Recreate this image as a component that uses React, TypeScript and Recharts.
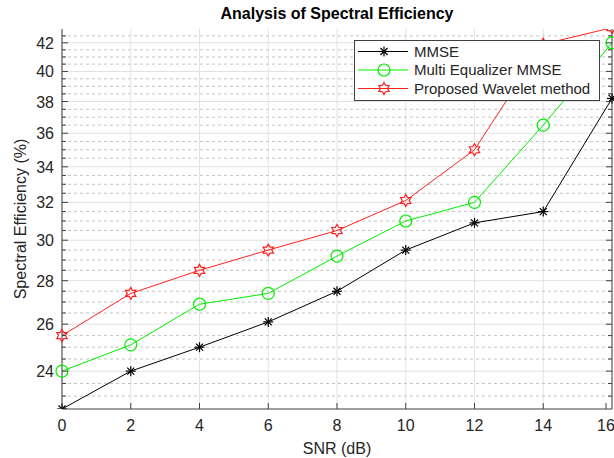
import { LineChart, Line, XAxis, YAxis, CartesianGrid, ReferenceLine } from 'recharts'

const snr = [0, 2, 4, 6, 8, 10, 12, 14, 16]
const mmse = [22.5, 24.0, 25.0, 26.1, 27.5, 29.5, 30.9, 31.5, 38.2]
const multiEq = [24.0, 25.1, 26.9, 27.4, 29.2, 31.0, 32.0, 36.5, 42.0]
const wavelet = [25.5, 27.4, 28.5, 29.5, 30.5, 32.1, 35.0, 41.9, 43.1]

const xTicks = [0, 2, 4, 6, 8, 10, 12, 14, 16]
const yMajor = [24, 26, 28, 30, 32, 34, 36, 38, 40, 42]
const yMinor = [
  23, 23.5, 24.5, 25, 25.5, 26.5, 27, 27.5, 28.5, 29, 29.5, 30.5, 31, 31.5,
  32.5, 33, 33.5, 34.5, 35, 35.5, 36.5, 37, 37.5, 38.5, 39, 39.5, 40.5, 41, 41.5, 42.5,
]
const yAll = [...yMajor, ...yMinor].sort((a, b) => a - b)

const data = snr.map((s, i) => ({
  snr: s,
  mmse: mmse[i],
  multiEq: multiEq[i],
  wavelet: wavelet[i],
}))

const FONT = 'Liberation Sans, Arial, Helvetica, sans-serif'
const AXIS = '#404040'
const TEXT = '#262626'

const Star = (props: any) => {
  const { cx, cy } = props
  if (cx == null || cy == null) return null
  const r = 5
  const d = r * 0.7
  return (
    <g stroke="#000" strokeWidth={1.2}>
      <line x1={cx - r} y1={cy} x2={cx + r} y2={cy} />
      <line x1={cx} y1={cy - r} x2={cx} y2={cy + r} />
      <line x1={cx - d} y1={cy - d} x2={cx + d} y2={cy + d} />
      <line x1={cx - d} y1={cy + d} x2={cx + d} y2={cy - d} />
    </g>
  )
}

const Circle = (props: any) => {
  const { cx, cy } = props
  if (cx == null || cy == null) return null
  return <circle cx={cx} cy={cy} r={6} fill="none" stroke="#00ee00" strokeWidth={1.2} />
}

const hexPath = (cx: number, cy: number, r: number) => {
  const pts: string[] = []
  for (let k = 0; k < 12; k++) {
    const rr = k % 2 === 0 ? r : r * 0.58
    const a = (Math.PI / 6) * k - Math.PI / 2
    pts.push(`${cx + rr * Math.cos(a)},${cy + rr * Math.sin(a)}`)
  }
  return 'M' + pts.join('L') + 'Z'
}

const Hexagram = (props: any) => {
  const { cx, cy } = props
  if (cx == null || cy == null) return null
  return <path d={hexPath(cx, cy, 6)} fill="none" stroke="#ff2020" strokeWidth={1.2} />
}

const BottomTick = (props: any) => {
  const { x, y, payload } = props
  return (
    <g>
      <line x1={x} y1={y} x2={x} y2={y - 6} stroke={AXIS} strokeWidth={1} />
      <text x={x} y={y + 22} textAnchor="middle" fontSize={16} fill={TEXT} fontFamily={FONT}>
        {payload.value}
      </text>
    </g>
  )
}

const TopTick = (props: any) => {
  const { x, y } = props
  return <line x1={x} y1={y} x2={x} y2={y + 6} stroke={AXIS} strokeWidth={1} />
}

const LeftTick = (props: any) => {
  const { x, y, payload } = props
  const major = yMajor.includes(payload.value)
  return (
    <g>
      <line x1={x} y1={y} x2={x + (major ? 6 : 4)} y2={y} stroke={AXIS} strokeWidth={1} />
      {major && (
        <text x={x - 8} y={y + 6} textAnchor="end" fontSize={16} fill={TEXT} fontFamily={FONT}>
          {payload.value}
        </text>
      )}
    </g>
  )
}

const RightTick = (props: any) => {
  const { x, y, payload } = props
  const major = yMajor.includes(payload.value)
  return <line x1={x} y1={y} x2={x - (major ? 6 : 4)} y2={y} stroke={AXIS} strokeWidth={1} />
}

const legendItems = [
  { label: 'MMSE', color: '#000', Marker: Star },
  { label: 'Multi Equalizer MMSE', color: '#00ee00', Marker: Circle },
  { label: 'Proposed Wavelet method', color: '#ff2020', Marker: Hexagram },
]

const LegendBox = () => (
  <svg width={247} height={62} style={{ display: 'block' }}>
    <rect x={0.5} y={0.5} width={245} height={60} fill="#fff" stroke={AXIS} strokeWidth={1} />
    {legendItems.map((it, i) => {
      const cy = 11.5 + i * 18.5
      return (
        <g key={it.label}>
          <line x1={4} y1={cy} x2={54} y2={cy} stroke={it.color} strokeWidth={1} />
          <it.Marker cx={30} cy={cy} />
          <text x={60} y={cy + 5} fontSize={15} fill={TEXT} fontFamily={FONT}>
            {it.label}
          </text>
        </g>
      )
    })}
  </svg>
)

export default function App() {
  return (
    <div style={{ position: 'absolute', left: 0, top: 0, width: 614, height: 458, background: '#fff' }}>
      <div
        style={{
          position: 'absolute',
          left: 62,
          width: 550,
          top: 5,
          textAlign: 'center',
          fontFamily: FONT,
          fontWeight: 'bold',
          fontSize: 16,
          color: '#000',
        }}
      >
        Analysis of Spectral Efficiency
      </div>
      <LineChart
        width={614}
        height={458}
        data={data}
        margin={{ top: 29, right: 1, bottom: 0, left: 22 }}
      >
        <CartesianGrid vertical horizontal={false} stroke="#e3e3e3" xAxisId="bottom" yAxisId="left" />
        {yMinor.map((v) => (
          <ReferenceLine
            key={'m' + v}
            y={v}
            yAxisId="left"
            xAxisId="bottom"
            stroke="#c4c4c4"
            strokeDasharray="3 3"
            strokeWidth={1}
          />
        ))}
        {yMajor.map((v) => (
          <ReferenceLine key={'M' + v} y={v} yAxisId="left" xAxisId="bottom" stroke="#e0e0e0" strokeWidth={1} />
        ))}
        <XAxis
          xAxisId="bottom"
          dataKey="snr"
          type="number"
          domain={[0, 16]}
          ticks={xTicks}
          tickSize={0}
          tickMargin={0}
          tickLine={false}
          axisLine={{ stroke: AXIS, strokeWidth: 1 }}
          tick={<BottomTick />}
          height={49}
          label={{ value: 'SNR (dB)', position: 'insideBottom', offset: 4, fontSize: 16, fill: TEXT, fontFamily: FONT }}
        />
        <XAxis
          xAxisId="top"
          orientation="top"
          dataKey="snr"
          type="number"
          domain={[0, 16]}
          ticks={xTicks}
          tickSize={0}
          tickMargin={0}
          tickLine={false}
          axisLine={{ stroke: AXIS, strokeWidth: 1 }}
          tick={<TopTick />}
          height={0}
        />
        <YAxis
          yAxisId="left"
          scale="log"
          domain={[22.5, 43]}
          allowDataOverflow
          ticks={yAll}
          interval={0}
          tickSize={0}
          tickMargin={0}
          tickLine={false}
          axisLine={{ stroke: AXIS, strokeWidth: 1 }}
          tick={<LeftTick />}
          width={40}
          label={{
            value: 'Spectral Efficiency (%)',
            angle: -90,
            position: 'insideLeft',
            offset: -2,
            fontSize: 16,
            fill: TEXT,
            fontFamily: FONT,
            style: { textAnchor: 'middle' },
          }}
        />
        <YAxis
          yAxisId="right"
          orientation="right"
          scale="log"
          domain={[22.5, 43]}
          allowDataOverflow
          ticks={yAll}
          interval={0}
          tickSize={0}
          tickMargin={0}
          tickLine={false}
          axisLine={{ stroke: AXIS, strokeWidth: 1 }}
          tick={<RightTick />}
          width={1}
        />
        <Line
          xAxisId="bottom"
          yAxisId="left"
          dataKey="mmse"
          stroke="#000"
          strokeWidth={1}
          dot={<Star />}
          isAnimationActive={false}
        />
        <Line
          xAxisId="bottom"
          yAxisId="left"
          dataKey="multiEq"
          stroke="#00ee00"
          strokeWidth={1}
          dot={<Circle />}
          isAnimationActive={false}
        />
        <Line
          xAxisId="bottom"
          yAxisId="left"
          dataKey="wavelet"
          stroke="#ff2020"
          strokeWidth={1}
          dot={<Hexagram />}
          isAnimationActive={false}
        />
      </LineChart>
      <div style={{ position: 'absolute', left: 354, top: 40 }}>
        <LegendBox />
      </div>
    </div>
  )
}
